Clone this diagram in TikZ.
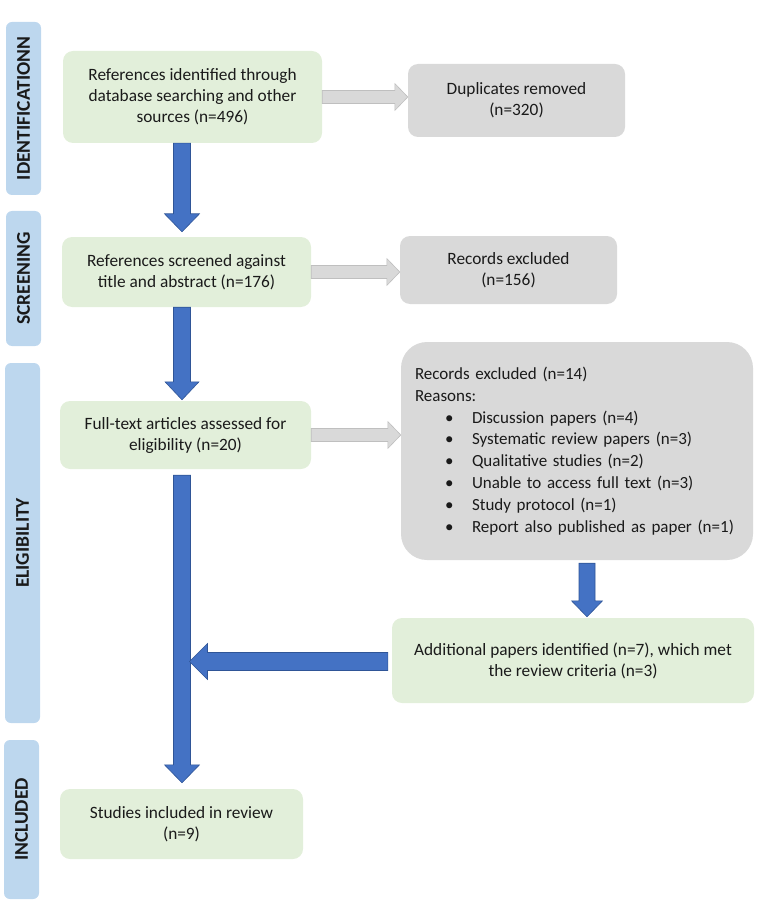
\documentclass[tikz,border=0pt]{standalone}
\usepackage{fontspec}
\setmainfont{Carlito}
\usetikzlibrary{calc}
\definecolor{boxgreen}{HTML}{E2EFDA}
\definecolor{boxgray}{HTML}{D9D9D9}
\definecolor{barblue}{HTML}{BDD7EE}
\definecolor{arrblue}{HTML}{4472C4}
\definecolor{arrblueline}{HTML}{2F5597}
\definecolor{arrgrayline}{HTML}{BFBFBF}
\definecolor{txt}{HTML}{1A1A1A}
\tikzset{
  greenbox/.style={fill=boxgreen, rounded corners=10pt, align=center, text=txt,
    font=\fontsize{17.3}{21}\selectfont, inner sep=0pt},
  graybox/.style={fill=boxgray, rounded corners=10pt, align=center, text=txt,
    font=\fontsize{17.3}{21}\selectfont, inner sep=0pt},
  sidebar/.style={fill=barblue, rounded corners=6pt, minimum width=35pt, inner sep=0pt},
  sidelabel/.style={rotate=90, font=\fontsize{19.5}{20}\selectfont\bfseries, text=txt},
  bluearrow/.style={fill=arrblue, draw=arrblueline, line width=0.6pt, line join=miter},
  grayarrow/.style={fill=boxgray, draw=arrgrayline, line width=0.6pt, line join=miter},
}
% vertical block arrow downwards: #1 start, #2 tip, #3 shaft half width, #4 head half width, #5 head length, #6 style
\newcommand\blockdown[6]{%
  \path[#6] let \p1=(#1), \p2=(#2) in
    (\x1-#3,\y1) -- (\x1-#3,\y2+#5) -- (\x1-#4,\y2+#5) -- (\x1,\y2)
    -- (\x1+#4,\y2+#5) -- (\x1+#3,\y2+#5) -- (\x1+#3,\y1) -- cycle;}
% horizontal block arrow to the right
\newcommand\blockright[6]{%
  \path[#6] let \p1=(#1), \p2=(#2) in
    (\x1,\y1+#3) -- (\x2-#5,\y1+#3) -- (\x2-#5,\y1+#4) -- (\x2,\y1)
    -- (\x2-#5,\y1-#4) -- (\x2-#5,\y1-#3) -- (\x1,\y1-#3) -- cycle;}
% horizontal block arrow to the left
\newcommand\blockleft[6]{%
  \path[#6] let \p1=(#1), \p2=(#2) in
    (\x1,\y1+#3) -- (\x2+#5,\y1+#3) -- (\x2+#5,\y1+#4) -- (\x2,\y1)
    -- (\x2+#5,\y1-#4) -- (\x2+#5,\y1-#3) -- (\x1,\y1-#3) -- cycle;}
\begin{document}
\begin{tikzpicture}[x=1pt,y=-1pt]
\useasboundingbox (0,0) rectangle (765,909);

% side bars
\node[sidebar, minimum height=173pt] (s1) at (23.5,108.5) {};
\node[sidelabel] (l1) at (s1) {IDENTIFICATIONN};
\node[sidebar, minimum height=135pt] (s2) at (23.5,278.5) {};
\node[sidelabel] (l2) at (s2) {SCREENING};
\node[sidebar, minimum height=360pt] (s3) at (22.5,543) {};
\node[sidelabel] (l3) at (s3) {ELIGIBILITY};
\node[sidebar, minimum height=159pt] (s4) at (21.5,819.5) {};
\node[sidelabel] (l4) at (s4) {INCLUDED};

% boxes
\node[greenbox, minimum width=259pt, minimum height=92pt] (b1) at (192.5,97)
  {References identified through\\database searching and other\\sources (n=496)};
\node[graybox, minimum width=217pt, minimum height=73pt] (dup) at (516.5,100.5)
  {Duplicates removed\\(n=320)};
\node[greenbox, minimum width=249pt, minimum height=70pt] (b2) at (186.5,272)
  {References screened against\\title and abstract (n=176)};
\node[graybox, minimum width=217pt, minimum height=68pt] (exc1) at (508.5,270)
  {Records excluded\\(n=156)};
\node[greenbox, minimum width=251pt, minimum height=68pt] (b3) at (185.5,435)
  {Full-text articles assessed for\\eligibility (n=20)};
\node[graybox, rounded corners=26pt, minimum width=352pt, minimum height=218pt,
      align=left, text width=324pt, font=\fontsize{17}{21.8}\selectfont] (exc2) at (577,451)
  {Records excluded (n=14)\\
   Reasons:\\
   \hspace*{30pt}\makebox[27pt][l]{\textbullet}Discussion papers (n=4)\\
   \hspace*{30pt}\makebox[27pt][l]{\textbullet}Systematic review papers (n=3)\\
   \hspace*{30pt}\makebox[27pt][l]{\textbullet}Qualitative studies (n=2)\\
   \hspace*{30pt}\makebox[27pt][l]{\textbullet}Unable to access full text (n=3)\\
   \hspace*{30pt}\makebox[27pt][l]{\textbullet}Study protocol (n=1)\\
   \hspace*{30pt}\makebox[27pt][l]{\textbullet}Report also published as paper (n=1)};
\node[greenbox, minimum width=362pt, minimum height=85pt] (add) at (573,660.5)
  {Additional papers identified (n=7), which met\\the review criteria (n=3)};
\node[greenbox, minimum width=243pt, minimum height=70pt] (b4) at (181.5,824)
  {Studies included in review\\(n=9)};

% trunk x position
\coordinate (trunk) at (182,0);
\coordinate (side) at (587,0);

% blue arrows
\blockdown{b1.south -| trunk}{$(b2.north -| trunk)+(0,-5)$}{8.5pt}{17.5pt}{18pt}{bluearrow}
\blockdown{b2.south -| trunk}{$(b3.north -| trunk)+(0,-1)$}{8.5pt}{17pt}{18pt}{bluearrow}
\blockdown{$(b3.south -| trunk)+(0,6)$}{$(b4.north -| trunk)+(0,-6)$}{8.5pt}{17.5pt}{18pt}{bluearrow}
\blockdown{$(exc2.south -| side)+(0,3)$}{$(add.north -| side)+(0,-1)$}{8pt}{15.5pt}{16pt}{bluearrow}
\blockleft{$(add.west)+(-4,1)$}{$(trunk |- add.west)+(7.5,1)$}{9pt}{18pt}{18pt}{bluearrow}

% gray arrows
\blockright{b1.east}{b1.east -| dup.west}{6.5pt}{13.5pt}{13pt}{grayarrow}
\blockright{b2.east}{b2.east -| exc1.west}{6.5pt}{13.5pt}{13pt}{grayarrow}
\blockright{b3.east}{b3.east -| exc2.west}{6.5pt}{13.5pt}{13pt}{grayarrow}
\end{tikzpicture}
\end{document}
